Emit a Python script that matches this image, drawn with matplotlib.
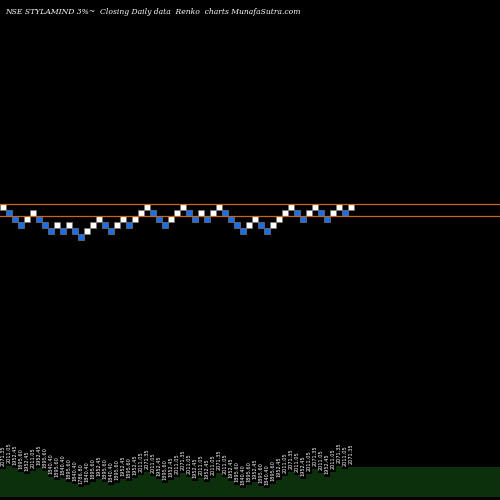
import matplotlib
matplotlib.use("Agg")
import matplotlib.pyplot as plt
from matplotlib.patches import Rectangle

# renko brick level per column (0 = top row), and direction
levels = [0, 1, 2, 3, 2, 1, 2, 3, 4, 3, 4, 3, 4, 5, 4, 3, 2, 3, 4, 3,
          2, 3, 2, 1, 0, 1, 2, 3, 2, 1, 0, 1, 2, 1, 2, 1, 0, 1, 2, 3,
          4, 3, 2, 3, 4, 3, 2, 1, 0, 1, 2, 1, 0, 1, 2, 1, 0, 1, 0]
up = [1, 0, 0, 0, 1, 1, 0, 0, 0, 1, 0, 1, 0, 0, 1, 1, 1, 0, 0, 1,
      1, 0, 1, 1, 1, 0, 0, 0, 1, 1, 1, 0, 0, 1, 0, 1, 1, 0, 0, 0,
      0, 1, 1, 0, 0, 1, 1, 1, 1, 0, 0, 1, 1, 0, 0, 1, 1, 0, 1]
level_prices = ["2071.35", "2011.05", "1952.45", "1895.60", "1840.40", "1786.80"]
labels = [level_prices[l] for l in levels]
# area heights under the chart (pixels above bottom)
area = [28, 31, 29, 25, 23, 26, 29, 26, 20, 17, 19, 15, 13, 10, 12, 15, 18, 15, 12, 14,
        18, 16, 19, 22, 25, 21, 18, 14, 17, 20, 24, 20, 16, 19, 15, 19, 24, 20, 16, 12,
        9, 12, 15, 11, 9, 13, 17, 21, 25, 22, 18, 23, 28, 24, 20, 25, 31, 28, 30]

fig = plt.figure(figsize=(5, 5), dpi=100, facecolor="black")
ax = fig.add_axes([0, 0, 1, 1], facecolor="black")
ax.set_xlim(0, 500 / 6)
ax.set_ylim(-500 / 6, 0)
ax.axis("off")

# area under the chart, in pixel units of the same axes
xs = list(range(len(area))) + [500 / 6]
tops = [-(497 - a) / 6 for a in area] + [-(497 - area[-1]) / 6]
ax.fill_between(xs, -497 / 6, tops, step="post", color="#0c2f0c", linewidth=0)

for i, (l, u) in enumerate(zip(levels, up)):
    color = "white" if u else "#1a6fe8"
    ax.add_patch(Rectangle((i + 0.05, -35 - l + 0.05), 0.9, 0.9,
                           facecolor=color, edgecolor="#777777", linewidth=0.5))

ax.axhline(-34, color="#c8661a", linewidth=0.9)
ax.axhline(-36, color="#c8661a", linewidth=0.9)

fig.text(0.01, 0.985, "NSE STYLAMIND 3%~  Closing Daily data  Renko  charts MunafaSutra.com",
         color="white", fontsize=5.5, family="DejaVu Serif", style="italic", va="top")

for i, lab in enumerate(labels):
    ypix = 497 - area[i] - 3
    ax.text(i + 0.5, -ypix / 6, lab, rotation=90, color="white", fontsize=3.6,
            ha="center", va="bottom")

fig.savefig("out.png", dpi=100, facecolor="black")
